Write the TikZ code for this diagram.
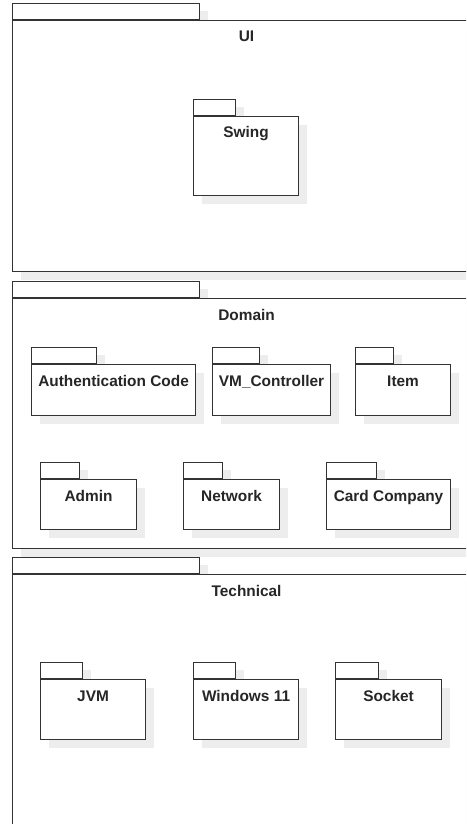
\documentclass[tikz,border=0pt]{standalone}
\usepackage{fontspec}
\setmainfont{Liberation Sans}
\usetikzlibrary{positioning, shadows}

\tikzset{
    pkgbox/.style={draw=black!80, line width=1.1pt, fill=white, inner sep=0pt,
        general shadow={fill=black!7, shadow xshift=8pt, shadow yshift=-8pt}},
    pkgtitle/.style={font=\bfseries\fontsize{15.4}{17}\selectfont, text=black!85,
        inner sep=0pt, anchor=base},
}

\begin{document}
\begin{tikzpicture}[x=1pt, y=-1pt]
            \def\tabh{16}

            \fill[white] (0,0) rectangle (466,824);
            \useasboundingbox (0,0) rectangle (466,824);
            \clip (0,0) rectangle (466,824);

            % layers (the frames run off the right edge)
            % packages inside the layers
            \foreach \name/\x/\y/\w/\h/\tw/\txt in {
                ui/12/20/468/251/187/UI,
                domain/12/298/468/250/187/Domain,
                technical/12/574/468/270/187/Technical,
                swing/193/116/105/79/42/Swing,
                auth/31/364/164/51/65/Authentication Code,
                vmctrl/212/364/118/51/47/VM\_Controller,
                item/355/364/95/51/38/Item,
                admin/40/479/96/50/39/Admin,
                network/183/479/96/50/39/Network,
                card/326/479/124/50/50/Card Company,
                jvm/40/679/105/60/42/JVM,
                win/193/679/105/60/42/Windows 11,
                socket/335/679/106/60/43/Socket}
            {
                \coordinate (\name) at (\x,\y);
                \node[pkgbox, anchor=south west, minimum width=\tw pt, minimum height=\tabh pt]
                    (\name-tab) at (\name) {};
                \node[pkgbox, anchor=north west, minimum width=\w pt, minimum height=\h pt]
                    (\name-body) at (\name) {};
                \node[pkgtitle] (\name-title) at ([yshift=-22pt]\name-body.north) {\txt};
            }
\end{tikzpicture}
\end{document}
